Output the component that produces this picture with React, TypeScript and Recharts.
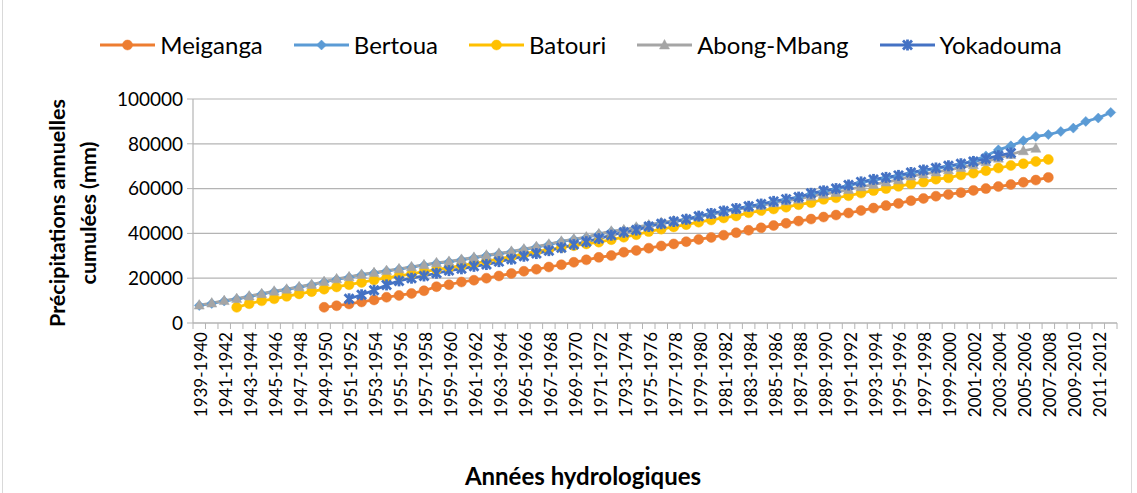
import React from 'react';
import { LineChart, Line, XAxis, YAxis, CartesianGrid, Legend } from 'recharts';

const categories = [
  '1939-1940', '1940-1941', '1941-1942', '1942-1943', '1943-1944', '1944-1945', '1945-1946', '1946-1947',
  '1947-1948', '1948-1949', '1949-1950', '1950-1951', '1951-1952', '1952-1953', '1953-1954', '1954-1955',
  '1955-1956', '1956-1957', '1957-1958', '1958-1959', '1959-1960', '1960-1961', '1961-1962', '1962-1963',
  '1963-1964', '1964-1965', '1965-1966', '1966-1967', '1967-1968', '1968-1969', '1969-1970', '1970-1971',
  '1971-1972', '1972-1973', '1793-1794', '1974-1975', '1975-1976', '1976-1977', '1977-1978', '1978-1979',
  '1979-1980', '1980-1981', '1981-1982', '1982-1983', '1983-1984', '1984-1985', '1985-1986', '1986-1987',
  '1987-1988', '1988-1989', '1989-1990', '1990-1991', '1991-1992', '1992-1993', '1993-1994', '1994-1995',
  '1995-1996', '1996-1997', '1997-1998', '1998-1999', '1999-2000', '2000-2001', '2001-2002', '2002-2003',
  '2003-2004', '2004-2005', '2005-2006', '2006-2007', '2007-2008', '2008-2009', '2009-2010', '2010-2011',
  '2011-2012', '2012-2013',
];

const _ = null;

const meiganga = [
  _, _, _, _, _, _, _, _, _, _,
  7000, 7700, 8500, 9400, 10300, 11500, 12300, 13200, 14400, 16200,
  17100, 18300, 19100, 20000, 21000, 22100, 23100, 24000, 25000, 26000,
  27100, 28200, 29300, 30100, 31600, 32400, 33400, 34400, 35300, 36300,
  37300, 38200, 39200, 40300, 41400, 42500, 43500, 44500, 45500, 46400,
  47300, 48200, 49100, 50200, 51300, 52400, 53400, 54600, 55600, 56600,
  57400, 58200, 59200, 60000, 60900, 61800, 62800, 63800, 65000,
  _, _, _, _, _,
];

const bertoua = [
  7800, 8700, 9800, 10700, 11800, 12900, 14000, 14900, 16000, 17000,
  18300, 19500, 20400, 21500, 22300, 23200, 24000, 24900, 25800, 26700,
  27300, 28200, 29100, 30100, 30900, 31800, 32800, 33900, 35000, 36300,
  37300, 38200, 39600, 40800, 41400, 42600, 43600, 44600, 45300, 46100,
  47400, 48600, 49700, 50800, 51800, 52800, 54000, 55000, 55900, 57600,
  58700, 59700, 61300, 62700, 63800, 64700, 65600, 66900, 68000, 68900,
  69900, 70800, 72400, 74600, 77300, 79100, 81400, 83300, 84100, 85500,
  87000, 90000, 91500, 94000,
];

const batouri = [
  _, _, _,
  7000, 8600, 9900, 10800, 11900, 13000, 14000, 15100, 16100, 17100,
  18100, 19200, 20100, 21000, 21900, 22900, 23800, 24700, 25600, 26600,
  27500, 28600, 29700, 30900, 32000, 32800, 33700, 34500, 35300, 36100,
  37200, 38300, 39400, 40800, 41900, 42900, 43900, 45000, 46000, 46900,
  47800, 49200, 50200, 50900, 51700, 52800, 53700, 55200, 55900, 56800,
  58000, 59100, 60000, 61000, 62100, 62900, 64200, 64800, 66100, 66900,
  68000, 69200, 70300, 71100, 72100, 73000,
  _, _, _, _, _,
];

const abongMbang = [
  8000, 8900, 10000, 10900, 12000, 13100, 14200, 15100, 16200, 17200,
  18500, 19700, 20600, 21700, 22500, 23400, 24200, 25100, 26000, 26900,
  27500, 28400, 29300, 30300, 31100, 32000, 33000, 34100, 35200, 36500,
  37500, 38400, 39800, 41000, 41600, 42800, 43800, 44900, 45600, 46400,
  47500, 48600, 49600, 50600, 51600, 52500, 53600, 54500, 55300, 56600,
  57500, 58300, 59600, 60800, 61800, 62900, 63900, 65600, 66500, 67400,
  68400, 69400, 70600, 72000, 73600, 75200, 76900, 78000,
  _, _, _, _, _, _,
];

const yokadouma = [
  _, _, _, _, _, _, _, _, _, _, _, _,
  10800, 12600, 14600, 17000, 18800, 20000, 21000, 22200, 23400, 24200,
  25300, 26100, 27400, 28500, 29800, 31000, 32300, 33600, 35000, 36300,
  37700, 39200, 40500, 41500, 43100, 44300, 45300, 46300, 47700, 48900,
  50000, 51100, 52100, 53100, 54300, 55300, 56200, 57900, 59000, 60000,
  61600, 63000, 64100, 65000, 65900, 67200, 68300, 69200, 70200, 71100,
  72100, 73300, 74700, 75900,
  _, _, _, _, _, _, _, _,
];

const yTicks = [0, 20000, 40000, 60000, 80000, 100000];

const series = [
  { key: 'Meiganga', name: 'Meiganga', values: meiganga, color: '#ED7D31', marker: 'circle' },
  { key: 'Bertoua', name: 'Bertoua', values: bertoua, color: '#5B9BD5', marker: 'diamond' },
  { key: 'Batouri', name: 'Batouri', values: batouri, color: '#FFC000', marker: 'circle' },
  { key: 'AbongMbang', name: 'Abong-Mbang', values: abongMbang, color: '#A5A5A5', marker: 'triangle' },
  { key: 'Yokadouma', name: 'Yokadouma', values: yokadouma, color: '#4472C4', marker: 'star' },
];

const data = categories.map((cat, i) => {
  const row: any = { cat };
  series.forEach((s) => {
    row[s.key] = s.values[i];
  });
  return row;
});

const W = 1137;
const H = 493;
const M_LEFT = 113;
const Y_W = 80;
const M_RIGHT = 20;
const PLOT_W = W - M_LEFT - Y_W - M_RIGHT;
const BAND = PLOT_W / categories.length;
const FONT = 'Lato, "Liberation Sans", Arial, sans-serif';
const GRID = '#b4b4b4';

function drawMarker(type: string, cx: number, cy: number, color: string, key?: string) {
  if (type === 'circle') {
    return <circle key={key} cx={cx} cy={cy} r={5} fill={color} stroke={color} strokeWidth={0.5} />;
  }
  if (type === 'diamond') {
    const s = 5;
    return (
      <polygon
        key={key}
        points={`${cx},${cy - s} ${cx + s},${cy} ${cx},${cy + s} ${cx - s},${cy}`}
        fill={color}
        stroke={color}
        strokeWidth={0.5}
      />
    );
  }
  if (type === 'triangle') {
    return (
      <polygon
        key={key}
        points={`${cx},${cy - 5.5} ${cx + 5},${cy + 4} ${cx - 5},${cy + 4}`}
        fill={color}
        stroke={color}
        strokeWidth={0.5}
      />
    );
  }
  const a = 4.5;
  return (
    <g key={key} stroke={color} strokeWidth={2.8} strokeLinecap="butt">
      <line x1={cx - a} y1={cy - a} x2={cx + a} y2={cy + a} />
      <line x1={cx - a} y1={cy + a} x2={cx + a} y2={cy - a} />
      <line x1={cx} y1={cy - a - 1} x2={cx} y2={cy + a + 1} />
    </g>
  );
}

const makeDot = (s: any) => (props: any) => {
  const { cx, cy, index, payload } = props;
  const k = `${s.key}-${index}`;
  if (payload == null || payload[s.key] == null || cx == null || cy == null || isNaN(cy)) {
    return <g key={k} />;
  }
  return drawMarker(s.marker, cx, cy, s.color, k);
};

const XTick = (props: any) => {
  const { x, y, payload } = props;
  const i = payload.index;
  return (
    <g>
      <line x1={x - BAND / 2} x2={x - BAND / 2} y1={y - 9} y2={y - 3} stroke={GRID} strokeWidth={1} />
      {i === categories.length - 1 && (
        <line x1={x + BAND / 2} x2={x + BAND / 2} y1={y - 9} y2={y - 3} stroke={GRID} strokeWidth={1} />
      )}
      {i % 2 === 0 && (
        <text
          x={x}
          y={y}
          dy={8}
          transform={`rotate(-90, ${x}, ${y})`}
          textAnchor="end"
          fontFamily={FONT}
          fontSize={17}
          fill="#000"
        >
          {payload.value}
        </text>
      )}
    </g>
  );
};

const renderLegend = () => (
  <div
    style={{
      display: 'flex',
      justifyContent: 'center',
      alignItems: 'center',
      paddingLeft: 25,
      fontFamily: FONT,
      fontSize: 24,
      lineHeight: '26px',
      color: '#000',
    }}
  >
    {series.map((s, k) => (
      <div key={s.key} style={{ display: 'flex', alignItems: 'center', marginLeft: k ? 31 : 0 }}>
        <svg width={55} height={20} style={{ display: 'block' }}>
          <line x1={0} y1={10} x2={55} y2={10} stroke={s.color} strokeWidth={3} />
          {drawMarker(s.marker, 27.5, 10, s.color)}
        </svg>
        <span style={{ marginLeft: 5 }}>{s.name}</span>
      </div>
    ))}
  </div>
);

const YLabel = () => (
  <g fontFamily={FONT} fontWeight="bold" fontSize={21.5} fill="#000">
    <text x={65} y={213} transform="rotate(-90, 65, 213)" textAnchor="middle">
      Précipitations annuelles
    </text>
    <text x={96} y={213} transform="rotate(-90, 96, 213)" textAnchor="middle">
      cumulées (mm)
    </text>
  </g>
);

const XLabel = () => (
  <text x={583} y={485} textAnchor="middle" fontFamily={FONT} fontWeight="bold" fontSize={24} fill="#000">
    Années hydrologiques
  </text>
);

export default function App() {
  return (
    <div style={{ position: 'absolute', left: 0, top: 0, width: W, height: H, background: '#fff' }}>
      <div
        style={{
          position: 'absolute',
          left: 2,
          top: -1,
          width: 1128,
          height: H + 5,
          border: '1px solid #d9d9d9',
          pointerEvents: 'none',
        }}
      />
      <LineChart
        width={W}
        height={H}
        data={data}
        margin={{ top: 99, right: M_RIGHT, bottom: 0, left: M_LEFT }}
      >
        <CartesianGrid vertical={false} stroke={GRID} strokeWidth={1.2} />
        <XAxis
          dataKey="cat"
          interval={0}
          height={170}
          padding={{ left: BAND / 2, right: BAND / 2 }}
          tickLine={false}
          tickSize={6}
          tickMargin={3}
          axisLine={{ stroke: GRID, strokeWidth: 1.2 }}
          tick={<XTick />}
          label={{ content: () => <XLabel /> }}
        />
        <YAxis
          width={Y_W}
          domain={[0, 100000]}
          ticks={yTicks}
          interval={0}
          tickSize={6}
          tickMargin={4}
          axisLine={{ stroke: GRID, strokeWidth: 1.2 }}
          tickLine={{ stroke: GRID }}
          tick={{ fontFamily: FONT, fontSize: 19, fill: '#000' }}
          label={{ content: () => <YLabel /> }}
        />
        <Legend
          verticalAlign="middle"
          align="center"
          layout="horizontal"
          wrapperStyle={{ top: 32, left: 0, width: W }}
          content={renderLegend}
        />
        {series.map((s) => (
          <Line
            key={s.key}
            type="linear"
            dataKey={s.key}
            name={s.name}
            stroke={s.color}
            strokeWidth={2.75}
            dot={makeDot(s)}
            activeDot={false}
            isAnimationActive={false}
            connectNulls={false}
          />
        ))}
      </LineChart>
    </div>
  );
}
